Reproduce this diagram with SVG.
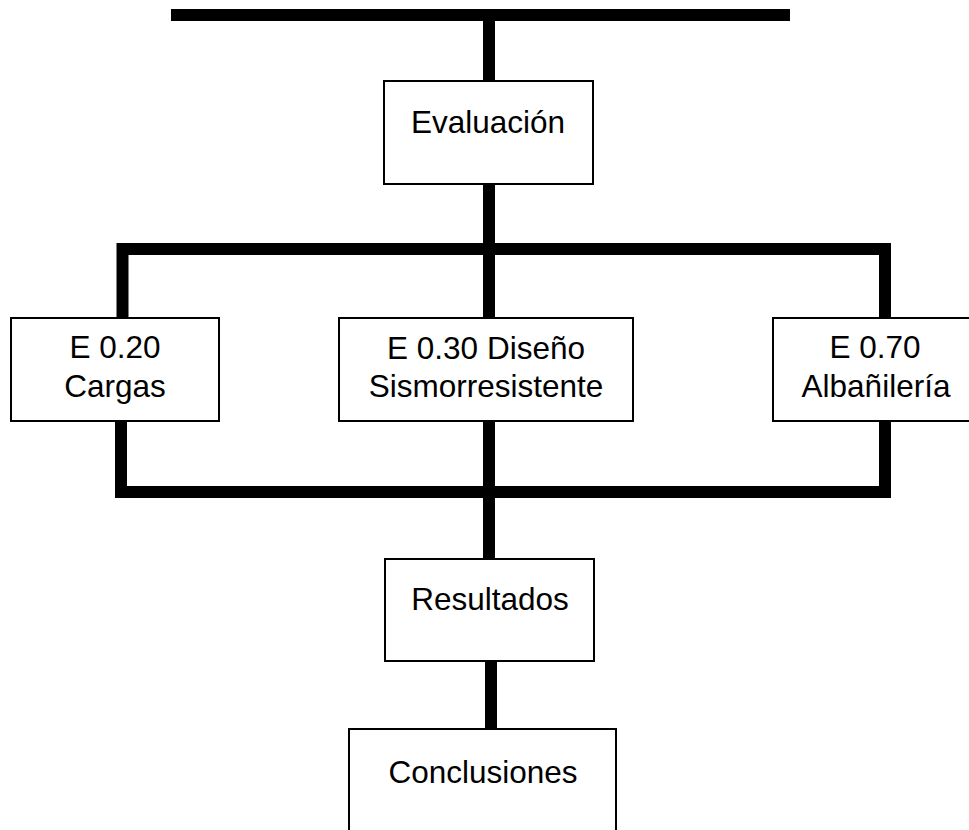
<svg xmlns="http://www.w3.org/2000/svg" width="969" height="830" viewBox="0 0 969 830">
<style>
.bar{stroke:#000;stroke-width:12;fill:none;stroke-linecap:butt}
.box{fill:#fff;stroke:#000;stroke-width:2}
.t{font-family:"Liberation Sans",Arial,sans-serif;font-size:31.5px;fill:#000;text-anchor:middle}
</style>
<rect width="969" height="830" fill="#fff"/>
<g id="connectors">
<line class="bar" x1="171" y1="15" x2="790" y2="15"/>
<line class="bar" x1="489" y1="21" x2="489" y2="81"/>
<line class="bar" x1="489" y1="184" x2="489" y2="318"/>
<polyline class="bar" points="122.5,318 122.5,249 885,249 885,318"/>
<polyline class="bar" points="121,421 121,492 885,492 885,421"/>
<line class="bar" x1="489" y1="421" x2="489" y2="559"/>
<line class="bar" x1="491" y1="661" x2="491" y2="729"/>
</g>
<g id="evaluacion">
<rect class="box" x="384" y="81" width="209" height="103"/>
<text class="t" x="488" y="133">Evaluación</text>
</g>
<g id="e020">
<rect class="box" x="11" y="318" width="208" height="103"/>
<text class="t" x="115" y="358">E 0.20</text>
<text class="t" x="115" y="397">Cargas</text>
</g>
<g id="e030">
<rect class="box" x="339" y="318" width="294" height="103"/>
<text class="t" x="486" y="359">E 0.30 Diseño</text>
<text class="t" x="486" y="397">Sismorresistente</text>
</g>
<g id="e070">
<rect class="box" x="773" y="318" width="206" height="103"/>
<text class="t" x="875" y="358">E 0.70</text>
<text class="t" x="876" y="397">Albañilería</text>
</g>
<g id="resultados">
<rect class="box" x="385" y="559" width="209" height="102"/>
<text class="t" x="490" y="610">Resultados</text>
</g>
<g id="conclusiones">
<rect class="box" x="349" y="729" width="267" height="150"/>
<text class="t" x="483" y="783">Conclusiones</text>
</g>
</svg>
